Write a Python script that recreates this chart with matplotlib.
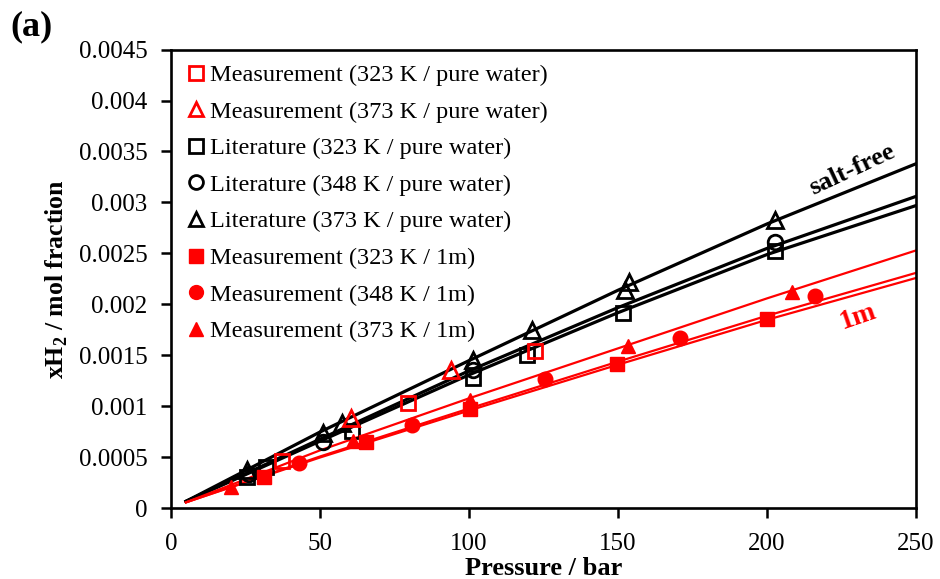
import numpy as np
import matplotlib
matplotlib.use("Agg")
import matplotlib.pyplot as plt

plt.rcParams['font.family'] = ['Liberation Serif', 'DejaVu Serif']
plt.rcParams['mathtext.fontset'] = 'custom'
plt.rcParams['mathtext.rm'] = 'Liberation Serif'
plt.rcParams['mathtext.bf'] = 'Liberation Serif:bold'

# measured points (pressure in bar, xH2 in mol fraction)
meas323_pw_p = [37.1, 79.6, 122.0]
meas323_pw_x = [0.00047, 0.00103, 0.00154]
meas373_pw_p = [60.4, 94.0]
meas373_pw_x = [0.00089, 0.00136]

lit323_p = [25.4, 32.0, 60.6, 101.4, 119.4, 151.7, 202.7]
lit323_x = [0.00031, 0.00041, 0.00076, 0.00128, 0.00150, 0.00192, 0.00252]
lit348_p = [26.0, 51.1, 101.4, 202.7]
lit348_x = [0.00034, 0.00065, 0.00136, 0.00261]
lit373_p = [25.4, 51.0, 57.5, 101.4, 121.0, 152.4, 153.7, 202.7]
lit373_x = [0.00038, 0.00074, 0.00084, 0.00146, 0.00175, 0.00214, 0.00222, 0.00283]

meas323_1m_p = [31.3, 65.5, 100.3, 149.6, 199.9]
meas323_1m_x = [0.00031, 0.00065, 0.00098, 0.00142, 0.00186]
meas348_1m_p = [43.0, 80.8, 125.5, 170.8, 216.0]
meas348_1m_x = [0.00045, 0.00082, 0.00127, 0.00167, 0.00208]
meas373_1m_p = [20.2, 61.0, 100.3, 153.5, 208.3]
meas373_1m_x = [0.00021, 0.00066, 0.00106, 0.00159, 0.00212]

# model curves
curve_p = [5, 50, 100, 150, 200, 250]
sf373 = [0.00007, 0.00075, 0.00145, 0.00214, 0.00279, 0.00338]
sf348 = [0.00007, 0.00068, 0.00135, 0.00197, 0.00255, 0.00306]
sf323 = [0.00007, 0.00066, 0.00131, 0.00192, 0.00249, 0.00297]
m1_373 = [0.00006, 0.00057, 0.00108, 0.00157, 0.00206, 0.00253]
m1_348 = [0.00006, 0.00051, 0.00098, 0.00144, 0.00189, 0.00231]
m1_323 = [0.00006, 0.00050, 0.00096, 0.00141, 0.00185, 0.00226]

red = '#ff0000'

fig = plt.figure(figsize=(9.4, 5.79), dpi=100)
ax = fig.add_axes([0.182, 0.1218, 0.7925, 0.7927])

for y in [sf373, sf348, sf323]:
    ax.plot(curve_p, y, color='black', lw=2.3, zorder=2)
for y in [m1_373, m1_348, m1_323]:
    ax.plot(curve_p, y, color=red, lw=1.6, zorder=2)

mew = 2.0
ax.plot(meas323_pw_p, meas323_pw_x, ls='none', marker='s', ms=10.5, mfc='none', mec=red, mew=mew,
        label='Measurement (323 K / pure water)', zorder=4)
ax.plot(meas373_pw_p, meas373_pw_x, ls='none', marker='^', ms=11, mfc='none', mec=red, mew=mew,
        label='Measurement (373 K / pure water)', zorder=4)
ax.plot(lit323_p, lit323_x, ls='none', marker='s', ms=10.5, mfc='none', mec='black', mew=mew,
        label='Literature (323 K / pure water)', zorder=3)
ax.plot(lit348_p, lit348_x, ls='none', marker='o', ms=10.5, mfc='none', mec='black', mew=mew,
        label='Literature (348 K / pure water)', zorder=3)
ax.plot(lit373_p, lit373_x, ls='none', marker='^', ms=11, mfc='none', mec='black', mew=mew,
        label='Literature (373 K / pure water)', zorder=3)
ax.plot(meas323_1m_p, meas323_1m_x, ls='none', marker='s', ms=10, color=red,
        label='Measurement (323 K / 1m)', zorder=4)
ax.plot(meas348_1m_p, meas348_1m_x, ls='none', marker='o', ms=10.5, color=red,
        label='Measurement (348 K / 1m)', zorder=4)
ax.plot(meas373_1m_p, meas373_1m_x, ls='none', marker='^', ms=10.5, color=red,
        label='Measurement (373 K / 1m)', zorder=4)

ax.set_xlim(0, 250)
ax.set_ylim(0, 0.0045)
ax.set_xticks(np.arange(0, 251, 50))
ax.set_yticks(np.arange(0, 0.00451, 0.0005))
ax.set_yticklabels(['0', '0.0005', '0.001', '0.0015', '0.002', '0.0025',
                    '0.003', '0.0035', '0.004', '0.0045'])
ax.tick_params(direction='out', length=7, width=1.8, labelsize=18)
ax.tick_params(axis='y', pad=10)
ax.tick_params(axis='x', pad=11)
for s in ax.spines.values():
    s.set_linewidth(1.9)

ax.set_xlabel('Pressure / bar', fontsize=19, fontweight='bold', labelpad=1)
ax.set_ylabel(r'xH$_\mathbf{2}$ / mol fraction', fontsize=18.5, fontweight='bold', labelpad=6)

leg = ax.legend(loc='upper left', bbox_to_anchor=(0.0, 1.0), frameon=False, fontsize=17.5,
                handlelength=0.85, handletextpad=0.15, labelspacing=0.6, borderpad=0.35,
                borderaxespad=0.25, markerscale=0.95)

ax.text(228.4, 0.00332, 'salt-free', fontsize=19, fontweight='bold', rotation=25,
        ha='center', va='center')
ax.text(230.5, 0.00188, '1m', fontsize=20, fontweight='bold', color=red, rotation=19,
        ha='center', va='center')
fig.text(0.011, 0.953, '(a)', fontsize=26, fontweight='bold', ha='left', va='center')

fig.savefig('out.png', dpi=100)
